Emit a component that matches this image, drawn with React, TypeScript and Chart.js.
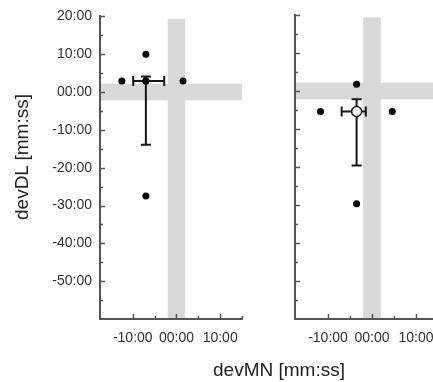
import React, { useEffect, useRef } from 'react';
import { Chart, registerables } from 'chart.js';

Chart.register(...registerables);

// Axis ranges (minutes)
const xMin = -17.5;
const xMax = 15;
const yMin = -60;
const yMax = 20;

// Left panel
const leftPointsX = [-12.5, -7.0, -7.0, 1.5, -7.0];
const leftPointsY = [2.9, 10.0, 2.9, 2.9, -27.5];
const leftMean = [-7.0, 2.9];
const leftErrX = [-9.9, -2.8];
const leftErrY = [-13.9, 4.1];

// Right panel
const rightPointsX = [-3.5, -11.7, 4.6, -3.5];
const rightPointsY = [1.8, -5.4, -5.4, -29.7];
const rightMean = [-3.5, -5.4];
const rightErrX = [-6.9, -1.4];
const rightErrY = [-19.6, -2.2];

// Tolerance bands
const bandX = [-2, 2];
const bandXTop = 19.4;
const bandY = [-2.2, 2.2];

const FONT = '"Liberation Sans", Arial, sans-serif';
const AXIS = '#555555';

const isMult = (v: number, m: number) => Math.abs(v / m - Math.round(v / m)) < 1e-6;
const fmt = (v: number) => (v < 0 ? '-' : '') + String(Math.abs(Math.round(v))).padStart(2, '0') + ':00';

interface PanelSpec {
  px: number[];
  py: number[];
  mean: number[];
  errX: number[];
  errY: number[];
  showY: boolean;
  yWidth: number;
  padRight: number;
  meanOpen: boolean;
}

function buildConfig(p: PanelSpec): any {
  const filter5 = (axis: any) => {
    axis.ticks = axis.ticks.filter((t: any) => isMult(t.value, 5));
  };
  const decor = {
    id: 'decor',
    beforeDraw(chart: any) {
      const { ctx, chartArea: a, scales } = chart;
      const x = scales.x;
      const y = scales.y;
      ctx.save();
      ctx.fillStyle = '#d9d9d9';
      const vx1 = x.getPixelForValue(bandX[0]);
      const vx2 = x.getPixelForValue(bandX[1]);
      const vy1 = y.getPixelForValue(bandXTop);
      ctx.fillRect(vx1, vy1, vx2 - vx1, a.bottom - vy1);
      const hy1 = y.getPixelForValue(bandY[1]);
      const hy2 = y.getPixelForValue(bandY[0]);
      ctx.fillRect(a.left, hy1, a.right - a.left, hy2 - hy1);
      ctx.restore();
    },
    beforeDatasetsDraw(chart: any) {
      const { ctx, scales } = chart;
      const x = scales.x;
      const y = scales.y;
      const mx = x.getPixelForValue(p.mean[0]);
      const my = y.getPixelForValue(p.mean[1]);
      const ex1 = x.getPixelForValue(p.errX[0]);
      const ex2 = x.getPixelForValue(p.errX[1]);
      const ey1 = y.getPixelForValue(p.errY[0]);
      const ey2 = y.getPixelForValue(p.errY[1]);
      const cap = 5;
      ctx.save();
      ctx.strokeStyle = '#151515';
      ctx.lineWidth = 2;
      ctx.beginPath();
      ctx.moveTo(ex1, my); ctx.lineTo(ex2, my);
      ctx.moveTo(ex1, my - cap); ctx.lineTo(ex1, my + cap);
      ctx.moveTo(ex2, my - cap); ctx.lineTo(ex2, my + cap);
      ctx.moveTo(mx, ey1); ctx.lineTo(mx, ey2);
      ctx.moveTo(mx - cap, ey1); ctx.lineTo(mx + cap, ey1);
      ctx.moveTo(mx - cap, ey2); ctx.lineTo(mx + cap, ey2);
      ctx.stroke();
      ctx.restore();
    },
    afterDraw(chart: any) {
      const { ctx, chartArea: a, scales } = chart;
      const x = scales.x;
      const y = scales.y;
      ctx.save();
      ctx.strokeStyle = AXIS;
      ctx.lineWidth = 1.5;
      ctx.beginPath();
      for (const t of x.ticks) {
        if (t.value <= x.min + 1e-6) continue;
        const px = Math.round(x.getPixelForValue(t.value)) + 0.5;
        const len = isMult(t.value, 10) ? 5 : 3;
        ctx.moveTo(px, a.bottom);
        ctx.lineTo(px, a.bottom - len);
      }
      for (const t of y.ticks) {
        if (t.value <= y.min + 1e-6) continue;
        const py = Math.round(y.getPixelForValue(t.value)) + 0.5;
        const len = isMult(t.value, 10) ? 5 : 3;
        ctx.moveTo(a.left, py);
        ctx.lineTo(a.left + len, py);
      }
      ctx.stroke();
      ctx.restore();
    },
  };

  return {
    type: 'scatter',
    data: {
      datasets: [
        {
          data: p.px.map((v, i) => ({ x: v, y: p.py[i] })),
          pointRadius: 3.5,
          pointBackgroundColor: '#000',
          pointBorderWidth: 0,
        },
        {
          data: [{ x: p.mean[0], y: p.mean[1] }],
          pointRadius: p.meanOpen ? 5 : 3.5,
          pointBackgroundColor: p.meanOpen ? '#ffffff' : '#000',
          pointBorderColor: '#111',
          pointBorderWidth: p.meanOpen ? 1.5 : 0,
        },
      ],
    },
    options: {
      responsive: false,
      animation: false,
      devicePixelRatio: 1,
      events: [],
      layout: { padding: { left: 0, top: 15, right: p.padRight, bottom: 0 } },
      plugins: { legend: { display: false }, tooltip: { enabled: false } },
      scales: {
        x: {
          type: 'linear',
          min: xMin,
          max: xMax,
          afterBuildTicks: filter5,
          afterFit: (s: any) => { s.height = 41; },
          grid: { drawOnChartArea: false, drawTicks: false },
          border: { display: true, color: AXIS, width: 2 },
          ticks: {
            stepSize: 5,
            autoSkip: false,
            maxRotation: 0,
            padding: 11,
            color: '#333',
            font: { family: FONT, size: 14 },
            callback: (v: any) => (isMult(Number(v), 10) ? fmt(Number(v)) : ''),
          },
        },
        y: {
          type: 'linear',
          min: yMin,
          max: yMax,
          afterBuildTicks: filter5,
          afterFit: (s: any) => { s.width = p.yWidth; },
          grid: { drawOnChartArea: false, drawTicks: false },
          border: { display: true, color: AXIS, width: 2 },
          ticks: {
            display: p.showY,
            stepSize: 5,
            autoSkip: false,
            padding: 8,
            color: '#333',
            font: { family: FONT, size: 14 },
            callback: (v: any) => {
              const n = Number(v);
              return isMult(n, 10) && n > yMin ? fmt(n) : '';
            },
          },
        },
      },
    },
    plugins: [decor],
  };
}

export default function App() {
  const leftRef = useRef<HTMLCanvasElement>(null);
  const rightRef = useRef<HTMLCanvasElement>(null);

  useEffect(() => {
    const c1 = new Chart(
      leftRef.current as HTMLCanvasElement,
      buildConfig({
        px: leftPointsX, py: leftPointsY, mean: leftMean, errX: leftErrX, errY: leftErrY,
        showY: true, yWidth: 100, padRight: 10, meanOpen: false,
      })
    );
    const c2 = new Chart(
      rightRef.current as HTMLCanvasElement,
      buildConfig({
        px: rightPointsX, py: rightPointsY, mean: rightMean, errX: rightErrX, errY: rightErrY,
        showY: false, yWidth: 42, padRight: 15, meanOpen: true,
      })
    );
    return () => {
      c1.destroy();
      c2.destroy();
    };
  }, []);

  const titleStyle: React.CSSProperties = {
    position: 'absolute',
    width: 200,
    height: 22,
    lineHeight: '22px',
    fontSize: 19,
    textAlign: 'center',
    whiteSpace: 'nowrap',
    color: '#222',
    fontFamily: FONT,
  };

  return (
    <div
      style={{
        position: 'fixed',
        left: 0,
        top: 0,
        width: 433,
        height: 382,
        overflow: 'hidden',
        background: '#fff',
      }}
    >
      <canvas ref={leftRef} width={253} height={360} style={{ position: 'absolute', left: 0, top: 0, width: 253, height: 360 }} />
      <canvas ref={rightRef} width={200} height={360} style={{ position: 'absolute', left: 253, top: 0, width: 200, height: 360 }} />
      <div style={{ ...titleStyle, left: -78, top: 146, transform: 'rotate(-90deg)' }}>devDL [mm:ss]</div>
      <div style={{ ...titleStyle, left: 179, top: 359 }}>devMN [mm:ss]</div>
    </div>
  );
}
